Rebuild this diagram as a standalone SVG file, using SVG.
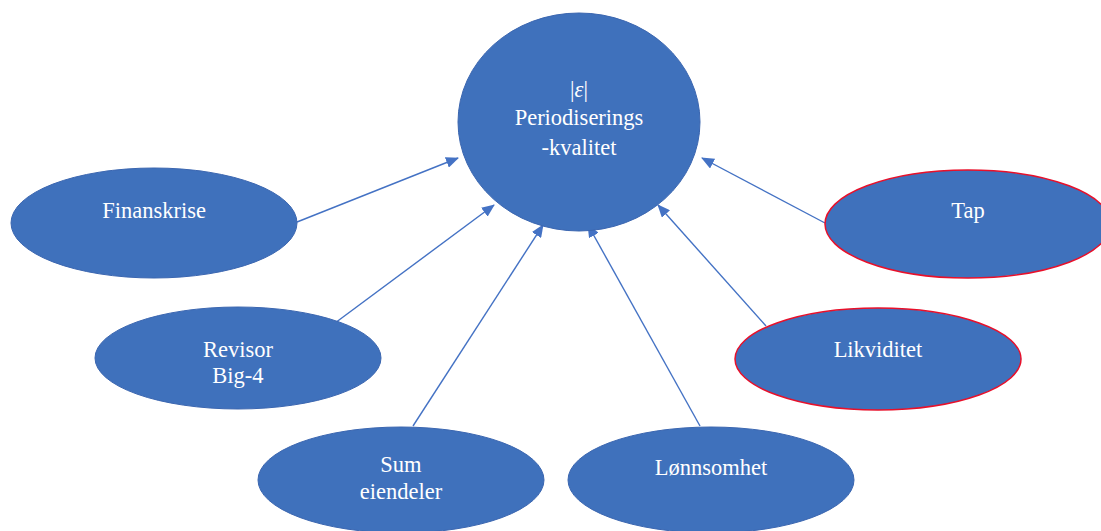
<svg xmlns="http://www.w3.org/2000/svg" width="1101" height="531" viewBox="0 0 1101 531">
<style>
.n{fill:#3F71BC;stroke:#3B66B0;stroke-width:1}
.r{fill:#3F71BC;stroke:#E8102A;stroke-width:1.5}
.t{font-family:'Liberation Serif','DejaVu Serif',serif;font-size:22.5px;fill:#fff;text-anchor:middle}
.c{stroke:#4472C4;stroke-width:1.4;fill:none;marker-end:url(#a)}
</style>
<defs>
<marker id="a" viewBox="0 0 13 11" refX="12" refY="5.5" markerWidth="13" markerHeight="11" markerUnits="userSpaceOnUse" orient="auto"><path d="M0,0 L13,5.5 L0,11 z" fill="#4472C4"/></marker>
</defs>
<rect width="1101" height="531" fill="#fff"/>
<g id="connectors">
<line class="c" x1="297" y1="222" x2="458" y2="158"/>
<line class="c" x1="335" y1="323" x2="494" y2="205"/>
<line class="c" x1="413" y1="426" x2="543" y2="225"/>
<line class="c" x1="700" y1="426" x2="588" y2="225"/>
<line class="c" x1="766" y1="326" x2="658" y2="205"/>
<line class="c" x1="825" y1="223" x2="702" y2="158"/>
</g>
<g id="center">
<ellipse class="n" cx="579" cy="122" rx="121" ry="109"/>
<text class="t" x="579" y="97">|<tspan font-style="italic">ε</tspan>|</text>
<text class="t" x="579" y="125">Periodiserings</text>
<text class="t" x="579" y="155">-kvalitet</text>
</g>
<g id="finanskrise">
<ellipse class="n" cx="154" cy="223" rx="143" ry="55"/>
<text class="t" x="154" y="218">Finanskrise</text>
</g>
<g id="revisor">
<ellipse class="n" cx="238" cy="358" rx="143" ry="51"/>
<text class="t" x="238" y="357">Revisor</text>
<text class="t" x="238" y="383">Big-4</text>
</g>
<g id="sum">
<ellipse class="n" cx="401" cy="480" rx="143" ry="53"/>
<text class="t" x="401" y="472">Sum</text>
<text class="t" x="401" y="499">eiendeler</text>
</g>
<g id="lonnsomhet">
<ellipse class="n" cx="711" cy="480" rx="143" ry="53"/>
<text class="t" x="711" y="475">Lønnsomhet</text>
</g>
<g id="likviditet">
<ellipse class="r" cx="878" cy="359" rx="143" ry="51"/>
<text class="t" x="878" y="357">Likviditet</text>
</g>
<g id="tap">
<ellipse class="r" cx="968" cy="224" rx="143" ry="54"/>
<text class="t" x="968" y="218">Tap</text>
</g>
</svg>
